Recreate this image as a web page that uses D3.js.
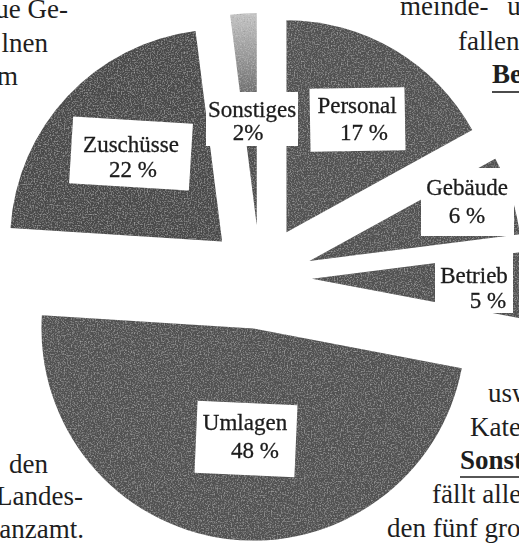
<!DOCTYPE html>
<html>
<head>
<meta charset="utf-8">
<script src="https://cdn.jsdelivr.net/npm/d3@7"></script>
<style>
  html, body { margin: 0; padding: 0; background: #fff; overflow: hidden; }
  svg { display: block; }
</style>
</head>
<body>
<div id="chart"></div>
<script>
// Ausgaben (Anteile in %), im Uhrzeigersinn ab 12 Uhr
const categories = ["Personal", "Gebäude", "Betrieb", "Umlagen", "Zuschüsse", "Sonstiges"];
const shares = [17, 6, 5, 48, 22, 2];
const shareLabels = ["17 %", "6 %", "5 %", "48 %", "22 %", "2%"];

// text fragments of the book page around the chart
const textTopLeft = ["ue Ge-", "lnen", "m"];
const textTopRight = ["meinde- und", "fallen", "Be"];
const textBottomLeft = ["den", "Landes-", "Finanzamt."];
const textBottomRight = ["usw.", "Kategorie", "Sonstiges", "fällt alles", "den fünf großen"];

function drawChart() {
    const width = 519, height = 544;
    const cx = 260, cy = 277;
    const radius = 212;
    const explode = 52;

    const container = d3.select("#chart");
    container.selectAll("*").remove();

    const svg = container.append("svg")
        .attr("width", width)
        .attr("height", height);

    svg.append("rect").attr("width", width).attr("height", height).attr("fill", "#fff");

    const defs = svg.append("defs");

    // grainy print look for the slices
    const filter = defs.append("filter")
        .attr("id", "scan")
        .attr("x", "-2%").attr("y", "-2%")
        .attr("width", "104%").attr("height", "104%");
    filter.append("feGaussianBlur")
        .attr("in", "SourceGraphic")
        .attr("stdDeviation", 0.6)
        .attr("result", "soft");
    filter.append("feTurbulence")
        .attr("type", "fractalNoise")
        .attr("baseFrequency", 0.7)
        .attr("numOctaves", 2)
        .attr("seed", 4)
        .attr("result", "noise");
    // light specks
    filter.append("feColorMatrix")
        .attr("in", "noise")
        .attr("type", "matrix")
        .attr("values", "0 0 0 0 0.8  0 0 0 0 0.8  0 0 0 0 0.8  0 0 0 0.9 -0.42")
        .attr("result", "speck");
    filter.append("feComposite")
        .attr("in", "speck")
        .attr("in2", "soft")
        .attr("operator", "in")
        .attr("result", "speckIn");
    // dark specks
    filter.append("feColorMatrix")
        .attr("in", "noise")
        .attr("type", "matrix")
        .attr("values", "0 0 0 0 0.1  0 0 0 0 0.1  0 0 0 0 0.1  -1.1 0 0 0 0.5")
        .attr("result", "dark");
    filter.append("feComposite")
        .attr("in", "dark")
        .attr("in2", "soft")
        .attr("operator", "in")
        .attr("result", "darkIn");
    const merge = filter.append("feMerge");
    merge.append("feMergeNode").attr("in", "soft");
    merge.append("feMergeNode").attr("in", "darkIn");
    merge.append("feMergeNode").attr("in", "speckIn");

    // "Sonstiges" is lighter towards the rim
    const grad = defs.append("linearGradient")
        .attr("id", "sonst-grad")
        .attr("gradientUnits", "userSpaceOnUse")
        .attr("x1", 0).attr("y1", -radius)
        .attr("x2", 0).attr("y2", 0);
    grad.append("stop").attr("offset", "0%").attr("stop-color", "#c4c4c4");
    grad.append("stop").attr("offset", "20%").attr("stop-color", "#9a9a9a");
    grad.append("stop").attr("offset", "38%").attr("stop-color", "#6e6e6e");
    grad.append("stop").attr("offset", "60%").attr("stop-color", "#505050");
    grad.append("stop").attr("offset", "100%").attr("stop-color", "#4c4c4c");

    // surrounding book text
    const textStyle = sel => sel
        .style("font-family", "'Liberation Serif', 'Times New Roman', serif")
        .style("font-size", "27px")
        .attr("fill", "#1e1e1e");

    const pageText = svg.append("g").attr("class", "page-text");

    const topLeftPos = [[68, 18], [48, 52], [18, 85]];
    textTopLeft.forEach((t, i) => {
        pageText.append("text")
            .attr("x", topLeftPos[i][0]).attr("y", topLeftPos[i][1])
            .attr("text-anchor", "end")
            .call(textStyle)
            .text(t);
    });

    const topRightPos = [[400, 15], [458, 50], [492, 83]];
    textTopRight.forEach((t, i) => {
        const el = pageText.append("text")
            .attr("x", topRightPos[i][0]).attr("y", topRightPos[i][1])
            .call(textStyle)
            .text(t);
        if (i === 0) el.style("word-spacing", "12px");
        if (i === 2) {
            el.style("font-weight", "bold");
            pageText.append("line")
                .attr("x1", 492).attr("x2", width)
                .attr("y1", 92).attr("y2", 92)
                .attr("stroke", "#1e1e1e").attr("stroke-width", 1.6);
        }
    });

    const bottomLeftPos = [[48, 473], [83, 505], [84, 538]];
    textBottomLeft.forEach((t, i) => {
        pageText.append("text")
            .attr("x", bottomLeftPos[i][0]).attr("y", bottomLeftPos[i][1])
            .attr("text-anchor", "end")
            .call(textStyle)
            .text(t);
    });

    const bottomRightPos = [[488, 402], [470, 436], [460, 469], [432, 503], [387, 537]];
    textBottomRight.forEach((t, i) => {
        const el = pageText.append("text")
            .attr("x", bottomRightPos[i][0]).attr("y", bottomRightPos[i][1])
            .call(textStyle)
            .text(t);
        if (i === 2) {
            el.style("font-weight", "bold");
            pageText.append("line")
                .attr("x1", 460).attr("x2", width)
                .attr("y1", 477).attr("y2", 477)
                .attr("stroke", "#1e1e1e").attr("stroke-width", 1.6);
        }
    });

    // exploded pie
    const pie = d3.pie().sort(null).value(d => d);
    const arcs = pie(shares);
    const arc = d3.arc().innerRadius(0).outerRadius(radius);

    const pieG = svg.append("g")
        .attr("transform", `translate(${cx}, ${cy})`)
        .attr("filter", "url(#scan)");

    pieG.selectAll(".slice")
        .data(arcs)
        .enter()
        .append("path")
        .attr("class", "slice")
        .attr("d", arc)
        .attr("transform", d => {
            const mid = (d.startAngle + d.endAngle) / 2;
            return `translate(${explode * Math.sin(mid)}, ${-explode * Math.cos(mid)})`;
        })
        .attr("fill", (d, i) => categories[i] === "Sonstiges" ? "url(#sonst-grad)"
            : categories[i] === "Zuschüsse" ? "#4a4a4a" : "#515151");

    // label boxes (positioned by hand like in the print)
    const labelLayout = [
        { box: [310, 88, 95, 63], rot: -1, lines: [[357, 113], [364, 140]] },
        { box: [421, 168, 93, 68], rot: 0, lines: [[467, 195], [467, 223]] },
        { box: [435, 253, 78, 60], rot: 0, lines: [[474, 283], [488, 308]] },
        { box: [196, 403, 100, 72], rot: 2.5, lines: [[245, 430], [255, 458]] },
        { box: [71, 120, 120, 67], rot: 3.5, lines: [[131, 152], [133, 177]] },
        { box: [206, 92, 92, 54], rot: 0, lines: [[252, 117], [248, 140]] }
    ];

    const labels = svg.append("g").attr("class", "labels");
    categories.forEach((name, i) => {
        const L = labelLayout[i];
        const [bx, by, bw, bh] = L.box;
        labels.append("rect")
            .attr("x", bx).attr("y", by)
            .attr("width", bw).attr("height", bh)
            .attr("fill", "#fff")
            .attr("transform", `rotate(${L.rot}, ${bx + bw / 2}, ${by + bh / 2})`);
        [name, shareLabels[i]].forEach((t, j) => {
            labels.append("text")
                .attr("x", L.lines[j][0]).attr("y", L.lines[j][1])
                .attr("text-anchor", "middle")
                .style("font-family", "'Liberation Serif', 'Times New Roman', serif")
                .style("font-size", "23px")
                .attr("fill", "#1c1c1c")
                .attr("stroke", "#1c1c1c")
                .attr("stroke-width", 0.3)
                .text(t);
        });
    });
}

drawChart();
</script>
</body>
</html>
